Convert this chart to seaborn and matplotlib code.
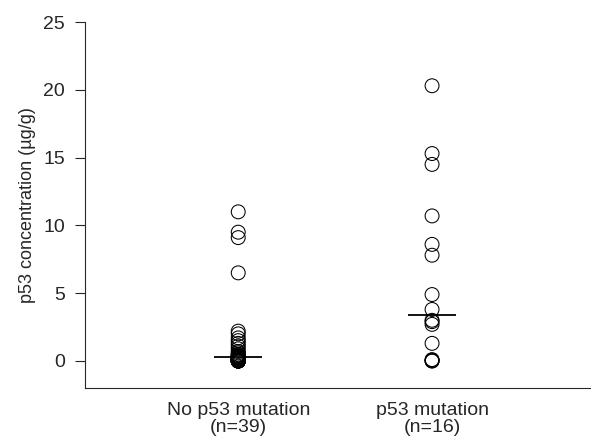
"""
p53 concentration by mutation status: open-circle dot plot with median bars
"""

import pandas as pd
import matplotlib.pyplot as plt
import seaborn as sns
import numpy as np

groups = ['No p53 mutation\n(n=39)', 'p53 mutation\n(n=16)']

no_mutation = [11.0, 9.5, 9.1, 6.5, 2.2, 2.0, 1.7, 1.5, 1.3, 1.1, 0.9, 0.7,
               0.6, 0.5, 0.45, 0.4, 0.35, 0.3, 0.3, 0.3, 0.25, 0.2, 0.2, 0.15,
               0.1, 0.1, 0.1, 0.05, 0.05, 0.0, 0.0, 0.0, 0.0, 0.0, 0.0, 0.0,
               0.0, 0.0, 0.0]
mutation = [20.3, 15.3, 14.5, 10.7, 8.6, 7.8, 4.9, 3.8, 3.0, 2.9, 2.7, 1.3,
            0.1, 0.05, 0.0, 0.0]

yticks = [0, 5, 10, 15, 20, 25]

df = pd.DataFrame({
    'group': [groups[0]] * len(no_mutation) + [groups[1]] * len(mutation),
    'conc': no_mutation + mutation,
})

sns.set_style('ticks')
plt.rcParams['font.family'] = ['Liberation Sans', 'DejaVu Sans']

fig = plt.figure(figsize=(5.91, 4.41), dpi=100)
ax = fig.add_axes([0.144, 0.12, 0.856, 0.83])

sns.stripplot(data=df, x='group', y='conc', order=groups, jitter=False,
              color='white', edgecolor='black', linewidth=0.75, size=10, ax=ax)
for coll in ax.collections:
    coll.set_facecolor('none')

# median bars
for i, vals in enumerate([no_mutation, mutation]):
    ax.hlines(np.median(vals), i - 0.125, i + 0.125, color='black', linewidth=1.3)

ax.set_xlim(-0.79, 1.82)
ax.set_ylim(-2, 25)
ax.set_yticks(yticks)
ax.tick_params(axis='y', labelsize=14, length=7.5, width=0.8, pad=7)
ax.tick_params(axis='x', labelsize=14, length=0, pad=10)
for lbl in ax.get_xticklabels():
    lbl.set_linespacing(1.0)
ax.set_xlabel('')
ax.set_ylabel('p53 concentration (\u00b5g/g)', fontsize=13, labelpad=5)
for s in ['top', 'right']:
    ax.spines[s].set_visible(False)
for s in ['left', 'bottom']:
    ax.spines[s].set_linewidth(0.8)

plt.savefig('out.png', dpi=100)
plt.close()
